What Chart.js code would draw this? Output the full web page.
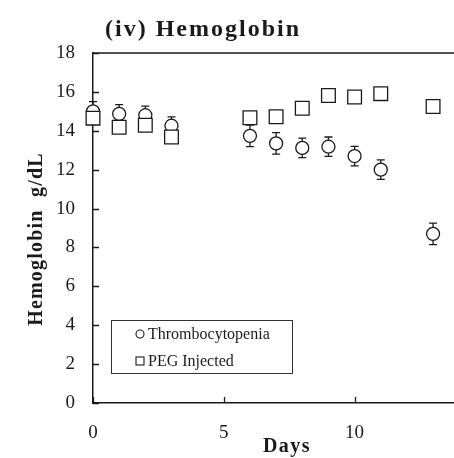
<!DOCTYPE html>
<html>
<head>
<meta charset="utf-8">
<script src="https://cdn.jsdelivr.net/npm/chart.js@4.4.1/dist/chart.umd.min.js"></script>
<style>
  html, body { margin: 0; padding: 0; background: #fff; }
  #wrap { width: 454px; height: 458px; }
</style>
</head>
<body>
<div id="wrap"><canvas id="chart" width="454" height="458"></canvas></div>
<script>
// donnees
const days = [0, 1, 2, 3, 6, 7, 8, 9, 10, 11, 13];
const thrombo = [15.0, 14.87, 14.8, 14.26, 13.74, 13.35, 13.12, 13.18, 12.7, 12.0, 8.7];
const thromboErr = [0.5, 0.47, 0.47, 0.46, 0.55, 0.55, 0.5, 0.5, 0.5, 0.5, 0.55];
const peg = [14.65, 14.18, 14.28, 13.68, 14.67, 14.72, 15.16, 15.81, 15.74, 15.91, 15.25];
const xTicks = [0, 5, 10];
const yTicks = [0, 2, 4, 6, 8, 10, 12, 14, 16, 18];

const INK = "#1a1a1a";
const SERIF = "'Liberation Serif', 'Times New Roman', serif";

// barres d'erreur (seulement Thrombocytopenia)
const errorBars = {
    id: "errorBars",
    beforeDatasetsDraw(chart) {
        const {ctx, scales: {x, y}} = chart;
        ctx.save();
        ctx.strokeStyle = INK;
        ctx.lineWidth = 1.3;
        days.forEach((d, i) => {
            const px = x.getPixelForValue(d);
            const top = y.getPixelForValue(thrombo[i] + thromboErr[i]);
            const bot = y.getPixelForValue(thrombo[i] - thromboErr[i]);
            ctx.beginPath();
            ctx.moveTo(px, top); ctx.lineTo(px, bot);
            ctx.moveTo(px - 4, top); ctx.lineTo(px + 4, top);
            ctx.moveTo(px - 4, bot); ctx.lineTo(px + 4, bot);
            ctx.stroke();
        });
        ctx.restore();
    }
};

// graduations interieures, cadre du haut, titres et legende
const decor = {
    id: "decor",
    afterDraw(chart) {
        const {ctx, chartArea: a, scales: {x, y}} = chart;
        ctx.save();
        ctx.strokeStyle = INK;
        ctx.lineWidth = 1.3;
        ctx.beginPath();
        yTicks.forEach(v => {
            const py = Math.round(y.getPixelForValue(v)) + 0.5;
            ctx.moveTo(a.left, py); ctx.lineTo(a.left + 6, py);
        });
        xTicks.forEach(v => {
            const px = Math.round(x.getPixelForValue(v)) + 0.5;
            ctx.moveTo(px, a.bottom); ctx.lineTo(px, a.bottom - 6);
        });
        ctx.moveTo(a.left, a.top); ctx.lineTo(a.right, a.top);
        ctx.stroke();

        ctx.fillStyle = INK;
        ctx.textBaseline = "alphabetic";
        ctx.textAlign = "left";
        ctx.letterSpacing = "2px";
        ctx.font = "bold 24px " + SERIF;
        ctx.fillText("(iv) Hemoglobin", 105, 36);

        ctx.letterSpacing = "1.5px";
        ctx.font = "bold 20px " + SERIF;
        ctx.textAlign = "center";
        ctx.fillText("Days", 287, 452);

        // titre axe y
        ctx.save();
        ctx.translate(42, 239);
        ctx.rotate(-Math.PI / 2);
        ctx.letterSpacing = "1.2px";
        ctx.fillText("Hemoglobin  g/dL", 0, 0);
        ctx.restore();
        ctx.letterSpacing = "0px";

        // legende
        const lx = 111, ly = 320, lw = 181, lh = 53;
        ctx.fillStyle = "#fff";
        ctx.fillRect(lx, ly, lw, lh);
        ctx.strokeStyle = "#333";
        ctx.lineWidth = 1;
        ctx.strokeRect(lx + 0.5, ly + 0.5, lw, lh);
        ctx.strokeStyle = INK;
        ctx.lineWidth = 1.1;
        ctx.beginPath();
        ctx.arc(140, 334, 4, 0, Math.PI * 2);
        ctx.stroke();
        ctx.strokeRect(136, 357, 8, 8);
        ctx.fillStyle = INK;
        ctx.font = "16px " + SERIF;
        ctx.textAlign = "left";
        ctx.textBaseline = "middle";
        chart.data.datasets.forEach((ds, i) => {
            ctx.fillText(ds.label, 148, 335 + i * 27);
        });
        ctx.restore();
    }
};

const ctx = document.getElementById("chart");
new Chart(ctx, {
    type: "scatter",
    data: {
        datasets: [{
            label: "Thrombocytopenia",
            data: days.map((d, i) => ({x: d, y: thrombo[i]})),
            order: 1,
            clip: false,
            pointStyle: "circle",
            pointRadius: 6.5,
            pointHoverRadius: 6.5,
            borderColor: INK,
            backgroundColor: "#fff",
            borderWidth: 1.3
        }, {
            label: "PEG Injected",
            data: days.map((d, i) => ({x: d, y: peg[i]})),
            order: 0,
            clip: false,
            pointStyle: "rect",
            pointRadius: 9.7,
            pointHoverRadius: 9.7,
            borderColor: INK,
            backgroundColor: "#fff",
            borderWidth: 1.3
        }]
    },
    options: {
        responsive: false,
        animation: false,
        layout: { autoPadding: false, padding: { top: 53, left: 0, right: 0, bottom: 0 } },
        plugins: {
            legend: { display: false },
            tooltip: { enabled: false }
        },
        scales: {
            x: {
                type: "linear",
                min: 0,
                max: 13.8,
                grid: { display: false, drawTicks: false },
                border: { display: true, color: INK, width: 1.5 },
                afterBuildTicks: s => { s.ticks = xTicks.map(v => ({value: v})); },
                afterFit: s => { s.height = 55; s.paddingLeft = 0; s.paddingRight = 0; },
                ticks: {
                    color: INK,
                    padding: 19,
                    font: { family: SERIF, size: 19 }
                }
            },
            y: {
                min: 0,
                max: 18,
                grid: { display: false, drawTicks: false },
                border: { display: true, color: INK, width: 1.5 },
                afterBuildTicks: s => { s.ticks = yTicks.map(v => ({value: v})); },
                afterFit: s => { s.width = 93; s.paddingTop = 0; s.paddingBottom = 0; },
                ticks: {
                    color: INK,
                    padding: 18,
                    font: { family: SERIF, size: 19 }
                }
            }
        }
    },
    plugins: [errorBars, decor]
});
</script>
</body>
</html>
